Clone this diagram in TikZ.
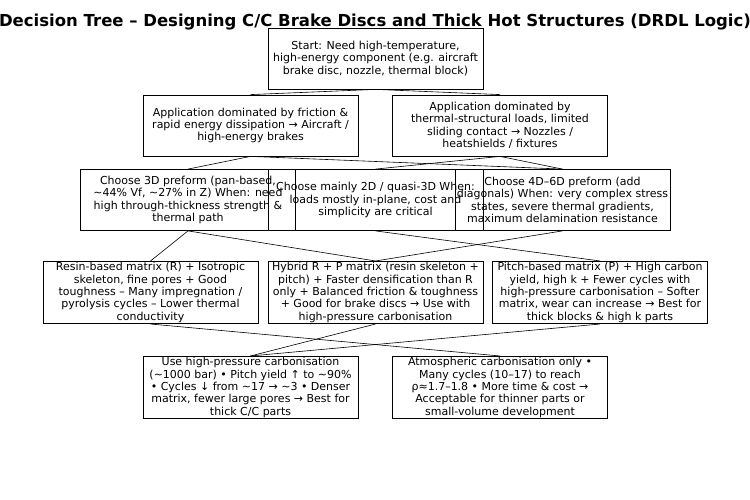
\documentclass[tikz,border=0pt]{standalone}
\usepackage{fontspec}
\setmainfont{DejaVu Sans}
\usetikzlibrary{positioning}
\tikzset{
    box/.style = {draw, rectangle, thick, minimum height=61pt,
        minimum width=215pt, align=center,
        font=\fontsize{11}{12.4}\selectfont, inner sep=1pt},
    link/.style = {draw, semithick}
}
\begin{document}
\begin{tikzpicture}[x=1pt, y=-1pt]
        \useasboundingbox (0,0) rectangle (750,500);
        \node [font=\bfseries\fontsize{16.5}{18}\selectfont] (title) at (375,22) {Decision Tree – Designing C/C Brake Discs and Thick Hot Structures (DRDL Logic)};
        \node [box] (start) at (375.5,58.5) {Start: Need high-temperature,\\high-energy component (e.g. aircraft\\brake disc, nozzle, thermal block)};
        % applications
        \node [box] (brake) at (250.5,125.5) {Application dominated by friction \&\\rapid energy dissipation → Aircraft /\\high-energy brakes};
        \node [box] (hot) at (500,125.5) {Application dominated by\\thermal-structural loads, limited\\sliding contact → Nozzles /\\heatshields / fixtures};
        % preforms
        \node [box] (pre3d) at (188,200) {Choose 3D preform (pan-based,\\\textasciitilde44\% Vf, \textasciitilde27\% in Z) When: need\\high through-thickness strength \&\\thermal path};
        \node [box] (pre2d) at (375.5,200) {Choose mainly 2D / quasi-3D When:\\loads mostly in-plane, cost and\\simplicity are critical};
        \node [box] (pre4d) at (562.5,200) {Choose 4D–6D preform (add\\diagonals) When: very complex stress\\states, severe thermal gradients,\\maximum delamination resistance};
        % matrices
        \node [box] (resin) at (150.5,292.5) {Resin-based matrix (R) + Isotropic\\skeleton, fine pores + Good\\toughness – Many impregnation /\\pyrolysis cycles – Lower thermal\\conductivity};
        \node [box] (hybrid) at (375.5,292.5) {Hybrid R + P matrix (resin skeleton +\\pitch) + Faster densification than R\\only + Balanced friction \& toughness\\+ Good for brake discs → Use with\\high-pressure carbonisation};
        \node [box] (pitch) at (600,292.5) {Pitch-based matrix (P) + High carbon\\yield, high k + Fewer cycles with\\high-pressure carbonisation – Softer\\matrix, wear can increase → Best for\\thick blocks \& high k parts};
        % carbonisation
        \node [box] (hipc) at (250.5,387.5) {Use high-pressure carbonisation\\(\textasciitilde1000 bar) • Pitch yield ↑ to \textasciitilde90\%\\• Cycles ↓ from \textasciitilde17 → \textasciitilde3 • Denser\\matrix, fewer large pores → Best for\\thick C/C parts};
        \node [box] (atmc) at (500,387.5) {Atmospheric carbonisation only •\\Many cycles (10–17) to reach\\ρ≈1.7–1.8 • More time \& cost →\\Acceptable for thinner parts or\\small-volume development};
        \foreach \a/\b in {start/brake,start/hot,brake/pre3d,brake/pre4d,hot/pre2d,hot/pre4d,
            pre3d/resin,pre3d/hybrid,pre2d/pitch,pre4d/hybrid,resin/atmc,hybrid/hipc,pitch/hipc}{
            \draw [link] (\a.south) -- (\b.north);
        }
\end{tikzpicture}
\end{document}
